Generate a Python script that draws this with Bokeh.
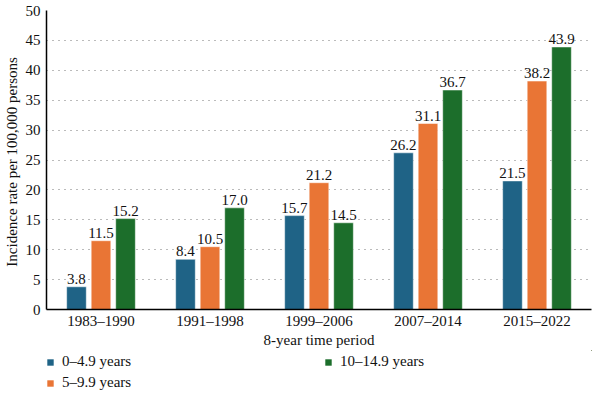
from bokeh.plotting import figure
from bokeh.models import ColumnDataSource, Legend, LegendItem, FactorRange, Range1d
from bokeh.layouts import column
from bokeh.transform import dodge
from bokeh.embed import file_html
from bokeh.resources import INLINE

periods = ["1983\u20131990", "1991\u20131998", "1999\u20132006", "2007\u20132014", "2015\u20132022"]
age_0_4 = [3.8, 8.4, 15.7, 26.2, 21.5]
age_5_9 = [11.5, 10.5, 21.2, 31.1, 38.2]
age_10_14 = [15.2, 17.0, 14.5, 36.7, 43.9]
series_names = ["0\u20134.9 years", "5\u20139.9 years", "10\u201314.9 years"]
colors = ["#1f6386", "#e97535", "#1c6e2b"]
y_ticks = [0, 5, 10, 15, 20, 25, 30, 35, 40, 45, 50]

FONT = "Liberation Serif"
TXT = "#111111"

src = ColumnDataSource(dict(
    period=periods,
    a=age_0_4, b=age_5_9, c=age_10_14,
    la=[f"{v:.1f}" for v in age_0_4],
    lb=[f"{v:.1f}" for v in age_5_9],
    lc=[f"{v:.1f}" for v in age_10_14],
))

p = figure(x_range=FactorRange(*periods, range_padding=0), y_range=(0, 50),
           width=592, height=350, output_backend="svg", toolbar_location=None,
           min_border_left=40, min_border_right=1, min_border_top=10, min_border_bottom=38)
p.outline_line_color = None

for col, lab, off, color in zip(["a", "b", "c"], ["la", "lb", "lc"], [-0.225, 0.0, 0.225], colors):
    p.vbar(x=dodge("period", off, range=p.x_range), top=col, width=0.18, source=src,
           fill_color=color, line_color="white", line_width=0.5)
    p.text(x=dodge("period", off, range=p.x_range), y=col, text=lab, source=src,
           text_align="center", text_baseline="bottom", y_offset=-3,
           text_font=FONT, text_font_size="15px", text_color=TXT)

p.yaxis.ticker = y_ticks
p.ygrid.grid_line_color = "#777777"
p.ygrid.grid_line_dash = "1 5"
p.ygrid.grid_line_width = 1
p.xgrid.grid_line_color = None

for ax in (p.xaxis, p.yaxis):
    ax.major_tick_line_color = None
    ax.minor_tick_line_color = None
    ax.major_tick_out = 0
    ax.major_tick_in = 0
    ax.minor_tick_out = 0
    ax.axis_line_color = "black"
    ax.axis_line_width = 1.5
    ax.major_label_text_font = FONT
    ax.major_label_text_font_size = "15px"
    ax.major_label_text_color = TXT
    ax.axis_label_text_font = FONT
    ax.axis_label_text_font_size = "15px"
    ax.axis_label_text_font_style = "normal"
    ax.axis_label_text_color = TXT

p.yaxis.axis_label = "Incidence  rate per 100,000 persons"
p.xaxis.axis_label = "8-year time period"
p.yaxis.major_label_standoff = 6
p.yaxis.axis_label_standoff = 3
p.xaxis.major_label_standoff = 3
p.xaxis.axis_label_standoff = 0

# legend panel below the chart (stub renderers fall outside its ranges, so only the legend shows)
lf = figure(width=592, height=41, output_backend="svg", toolbar_location=None,
            x_range=Range1d(-2, -1), y_range=Range1d(-2, -1),
            x_axis_type=None, y_axis_type=None,
            min_border_left=0, min_border_right=0, min_border_top=0, min_border_bottom=0)
lf.outline_line_color = None
lf.xgrid.grid_line_color = None
lf.ygrid.grid_line_color = None
stubs = [lf.vbar(x=col, top=col, bottom=col, width=0.1, source=src, fill_color=c, line_color=None)
         for col, c in zip(["a", "b", "c"], colors)]

items = [LegendItem(label=n, renderers=[r]) for n, r in zip(series_names, stubs)]
legend = Legend(items=items, location=(0, 0), orientation="vertical", nrows=2,
                glyph_width=8, glyph_height=8, label_standoff=8, label_width=258,
                label_height=16, spacing=4, padding=0, margin=0,
                label_text_font=FONT, label_text_font_size="15px", label_text_color=TXT,
                border_line_color=None, background_fill_alpha=0)
lf.add_layout(legend, "center")

layout = column(p, lf, spacing=0)
open("out.html", "w").write(file_html(layout, INLINE))
